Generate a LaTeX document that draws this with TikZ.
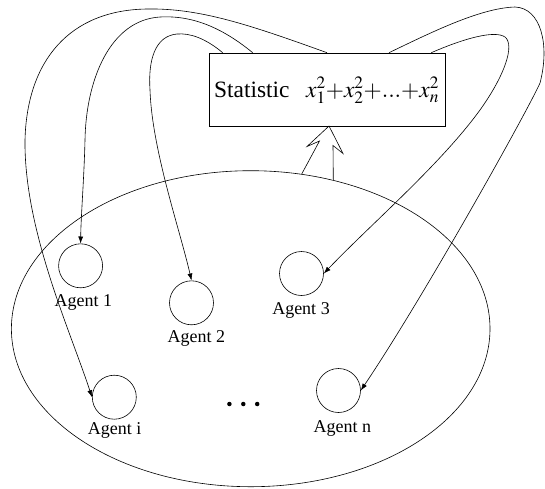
\documentclass[tikz,border=0pt]{standalone}
\usepackage{mathptmx}
\usepackage{fontspec}
\setmainfont{Liberation Serif}
\usetikzlibrary{shapes.geometric,arrows.meta,calc}
\begin{document}
\begin{tikzpicture}[x=1pt,y=-1pt,
  agent/.style={draw, circle, minimum size=44pt, inner sep=0pt, line width=0.6pt},
  lbl/.style={font=\fontsize{18}{20}\selectfont, inner sep=0pt},
  bigtxt/.style={anchor=base west, inner sep=0pt, font=\fontsize{23.4}{26}\selectfont},
  conn/.style={line width=0.6pt, -{Latex[length=7pt,width=5pt]}},
  thinline/.style={line width=0.6pt},
  dot/.style={circle, fill, inner sep=0pt, minimum size=4.5pt}]
\useasboundingbox (0,0) rectangle (545,488);
\node[draw, ellipse, thinline, minimum width=478.6pt, minimum height=316pt, inner sep=0pt] (ell) at (250.7,328.7) {};
\node[draw, thinline, minimum width=236pt, minimum height=73pt, inner sep=0pt] (stat) at (327,89.5) {};
\node[bigtxt] (stattxt) at (214,97) {Statistic};
\node[bigtxt] (formula) at (306,97) {$x_1^2{+}x_2^2{+}{.}{.}{.}{+}x_n^2$};
% agents
\node[agent] (a1) at (80.6,265.8) {};
\node[agent] (a2) at (191.5,302.8) {};
\node[agent] (a3) at (301.5,273.5) {};
\node[agent] (ai) at (114.3,397.2) {};
\node[agent] (an) at (338.5,390.5) {};
\node[lbl] (l1) at (83.4,302.5) {Agent 1};
\node[lbl] (l2) at (196.4,338) {Agent 2};
\node[lbl] (l3) at (301,310) {Agent 3};
\node[lbl] (li) at (114.7,430.5) {Agent i};
\node[lbl] (ln) at (342.4,428) {Agent n};
\node[dot] (d1) at (229.4,404) {};
\node[dot] (d2) at (243.3,404) {};
\node[dot] (d3) at (257.2,404) {};
% hollow upward arrow
\draw[thinline, line join=miter] (301.7,174) -- (319.5,141) -- (307,146.5) -- (329,126) -- (343,153.5) -- (333,145.5) -- (333.3,180);
% connectors
\draw[conn] ($(stat.north west)+(14,0)$) .. controls (205,38) and (190,33) .. (177,34)
  .. controls (155,36) and (148,60) .. (150,90)
  .. controls (152,150) and (180,230) .. (a2.north);
\draw[conn] ($(stat.north west)+(44,0)$) .. controls (225,30) and (195,15) .. (160,17)
  .. controls (110,20) and (86,80) .. (85,140)
  .. controls (84,180) and (81,215) .. (a1.north);
\draw[conn] (stat.north) .. controls (250,25) and (200,8) .. (147,9)
  .. controls (70,10) and (27,60) .. (25,140)
  .. controls (24,230) and (70,330) .. (ai.west);
\draw[conn] ($(stat.north)+(62,0)$) .. controls (430,33) and (480,8) .. (515,7)
  .. controls (541,8) and (550,45) .. (540,83)
  .. controls (528,110) and (425,295) .. (an.east);
\draw[conn] ($(stat.north east)+(-14,0)$) .. controls (465,38) and (495,30) .. (505,37)
  .. controls (515,45) and (505,75) .. (480,110)
  .. controls (440,165) and (370,225) .. (a3.east);
\end{tikzpicture}
\end{document}
